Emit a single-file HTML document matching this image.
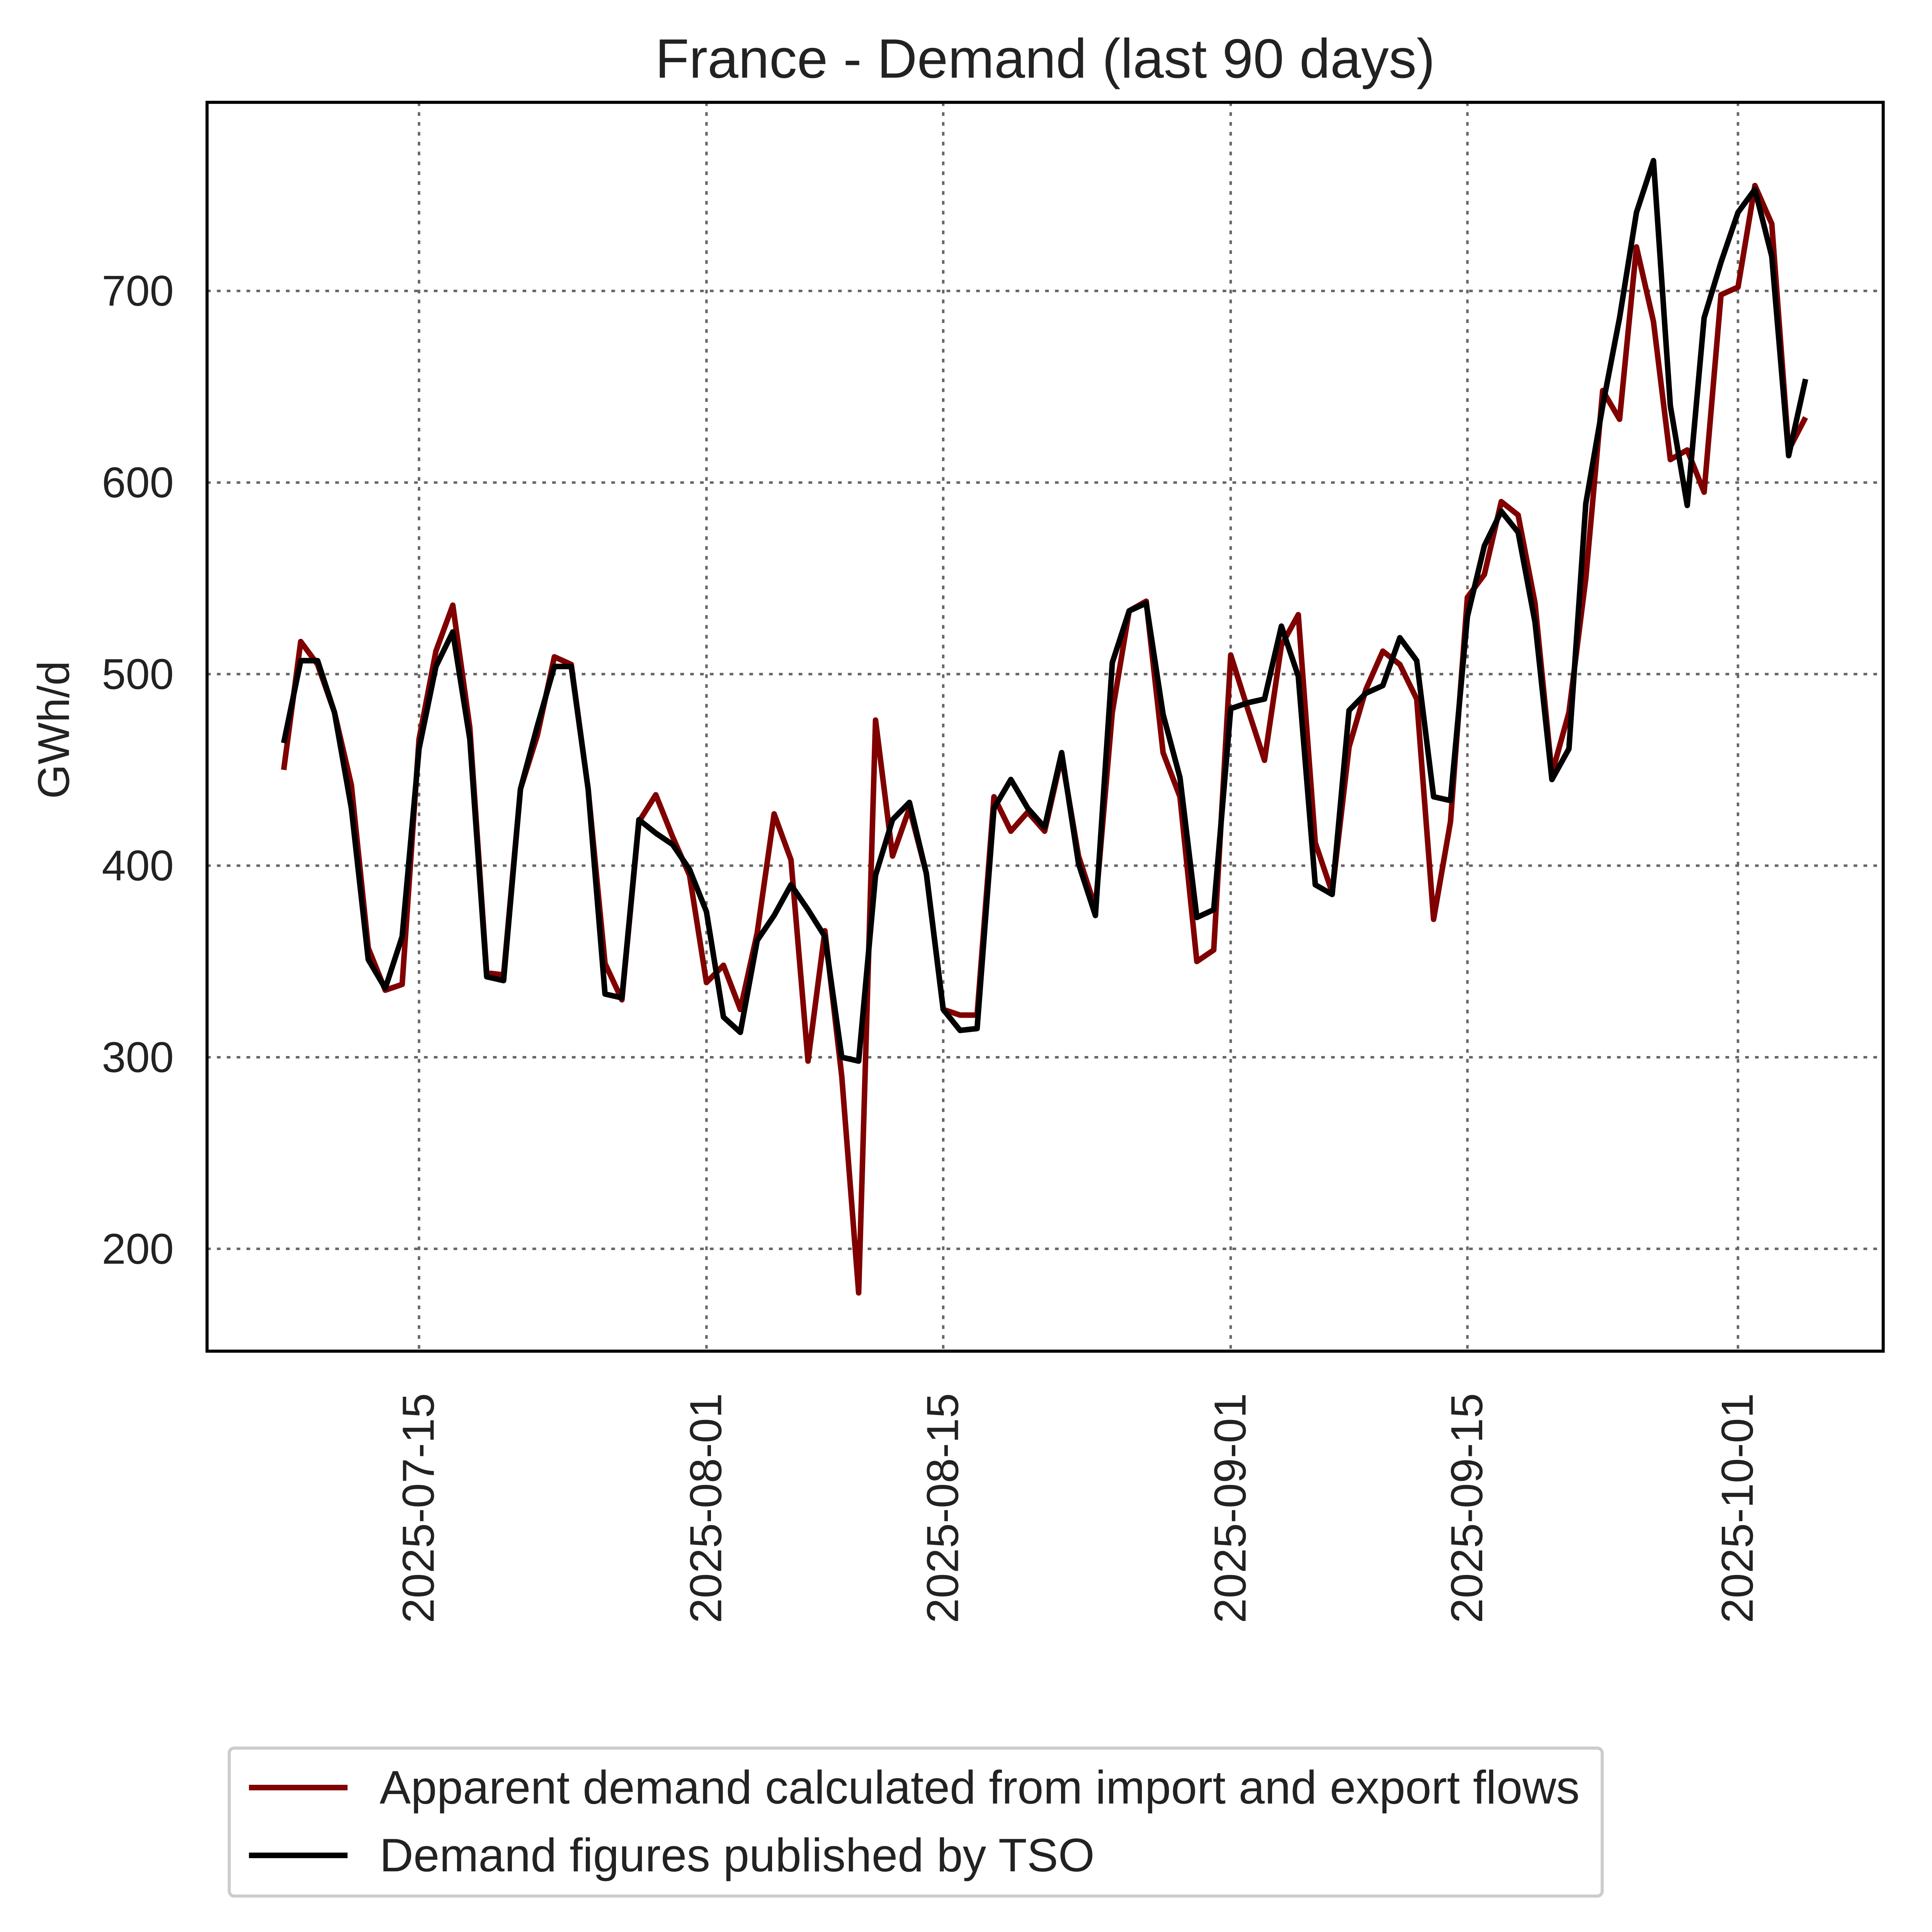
<!DOCTYPE html>
<html><head><meta charset="utf-8"><style>html,body{margin:0;padding:0;background:#fff;width:4963px;height:5005px;overflow:hidden}svg{display:block;position:absolute;left:0;top:0}</style></head>
<body>
<svg id="chart" width="4963" height="5005" style="width:4963px;height:5005px" xmlns="http://www.w3.org/2000/svg" font-family="Liberation Sans, Arial, sans-serif">
<rect x="0" y="0" width="4963" height="5005" fill="#fff"/>
<g transform="scale(3.1896,3.1905)">
<text x="848" y="63" font-size="45" text-anchor="middle" fill="#222">France - Demand (last 90 days)</text>
<g id="grid"></g>
<g id="series"></g>
<rect x="168" y="83" width="1360" height="1013" fill="none" stroke="#000" stroke-width="2.5"/>
<g id="yticks"></g>
<g id="xticks"></g>
<text transform="translate(56,592) rotate(-90)" font-size="36" text-anchor="middle" fill="#222">GWh/d</text>
<g>
<rect x="186" y="1418" width="1114" height="120" rx="4" fill="#fff" stroke="#ccc" stroke-width="2.5"/>
<line x1="202" y1="1450" x2="282" y2="1450" stroke="#800000" stroke-width="4.5"/>
<text x="308" y="1463" font-size="38" fill="#222">Apparent demand calculated from import and export flows</text>
<line x1="202" y1="1505" x2="282" y2="1505" stroke="#000" stroke-width="4.5"/>
<text x="308" y="1518" font-size="38" fill="#222">Demand figures published by TSO</text>
</g>
</g>
</svg>
<script>
const tsoValues=[464,507,507,480,430,351,336,363,461,504,522,466,342,340,440,473,504,504,440,333,331,424,417,411,398,376,321,313,361,374,390,377,363,300,298,395,424,433,396,325,314,315,430,445,430,420,459,401,374,506,533,537,479,446,373,377,482,485,487,525,499,390,385,481,490,494,519,507,436,434,530,567,585,574,527,445,461,589,640,686,741,768,640,588,686,715,741,753,718,614,654];
const apparentValues=[450,517,505,480,442,357,335,338,466,512,536,472,344,343,440,468,509,505,440,349,330,423,437,415,395,339,348,325,365,427,403,298,366,290,177,476,405,430,396,325,322,322,436,418,428,418,457,405,378,480,533,538,459,436,350,356,510,482,455,515,531,412,386,462,492,512,505,487,372,423,540,552,590,583,537,448,480,550,648,633,723,684,612,617,595,698,702,755,735,617,634];
const startDay=-8; // days relative to 2025-07-15
const yTicks=[200,300,400,500,600,700];
const xTickDays=[0,17,31,48,62,78];
const xTickLabels=["2025-07-15","2025-08-01","2025-08-15","2025-09-01","2025-09-15","2025-10-01"];
const NS="http://www.w3.org/2000/svg";
function xScale(d){return 340+d*13.72;}
function yScale(v){return 236+(700-v)*1.554;}
function mk(tag,attrs,parent){const e=document.createElementNS(NS,tag);for(const k in attrs)e.setAttribute(k,attrs[k]);parent.appendChild(e);return e;}
const grid=document.getElementById('grid'),yt=document.getElementById('yticks'),xt=document.getElementById('xticks'),ser=document.getElementById('series');
yTicks.forEach(v=>{
 const y=yScale(v);
 const l=mk('line',{x1:168,x2:1528,y1:y,y2:y,stroke:'#666','stroke-width':2,'stroke-dasharray':'3 5'},grid);
 
 
 const t=mk('text',{x:141,y:y+12,'font-size':35,'text-anchor':'end',fill:'#222'},yt);
 t.textContent=v;
 
 
});
xTickDays.forEach((d,i)=>{
 const x=xScale(d);
 const l=mk('line',{x1:x,x2:x,y1:83,y2:1096,stroke:'#666','stroke-width':2,'stroke-dasharray':'3 5'},grid);
 
 
 const t=mk('text',{transform:`translate(${x+12},1130) rotate(-90)`,'font-size':36.5,'text-anchor':'end',fill:'#222'},xt);
 t.textContent=xTickLabels[i];
 
 
});
function line(vals,color,name){
 const pts=vals.map((v,i)=>xScale(startDay+i).toFixed(1)+','+yScale(v).toFixed(1)).join(' ');
 const p=mk('polyline',{points:pts,fill:'none',stroke:color,'stroke-width':4.5,'stroke-linejoin':'round'},ser);
 
 
}
line(apparentValues,'#800000','apparent-demand-line');
line(tsoValues,'#000','tso-demand-line');
</script>
</body></html>
